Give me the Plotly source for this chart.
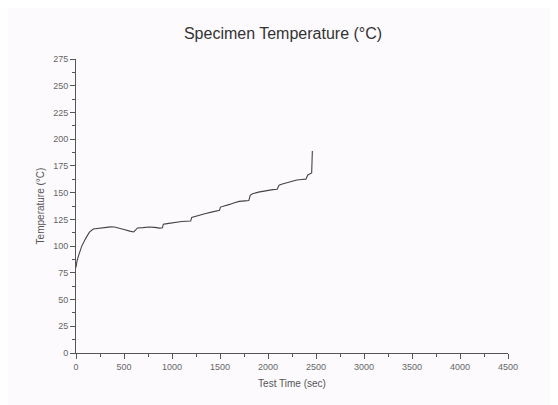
import plotly.graph_objects as go

# test time (sec) and specimen temperature (degC)
time_sec = [
    0, 10, 30, 60, 100, 140, 180, 220, 280, 320, 360, 400, 450, 500, 560, 600,
    620, 640, 700, 760, 820, 870, 900, 910, 950, 1000, 1050, 1100, 1150, 1195,
    1205, 1240, 1300, 1350, 1400, 1450, 1495, 1505, 1550, 1600, 1650, 1700,
    1760, 1800, 1815, 1840, 1900, 1950, 2000, 2050, 2095, 2115, 2150, 2200,
    2250, 2300, 2350, 2395, 2415, 2440, 2455, 2462,
]
temp_c = [
    80, 86, 92, 100, 107, 113, 116, 116.5, 116.8, 117.8, 118, 117.8, 117, 115.5,
    114, 113.2, 115, 117, 117.3, 117.8, 117.5, 116.8, 117.2, 120.5, 121, 121.8,
    122.5, 123, 123.2, 123.4, 126.8, 127.8, 129, 130.5, 131.5, 132.8, 133.5,
    136.5, 137.5, 139, 140.5, 141.8, 142.3, 142.6, 147.5, 149, 150.5, 151.5,
    152, 152.8, 153.2, 157, 158, 159.5, 160.8, 161.8, 162.3, 162.6, 166.5,
    167.5, 168.5, 189,
]

x_ticks = [0, 500, 1000, 1500, 2000, 2500, 3000, 3500, 4000, 4500]
y_ticks = [0, 25, 50, 75, 100, 125, 150, 175, 200, 225, 250, 275]

fig = go.Figure(
    go.Scatter(
        x=time_sec,
        y=temp_c,
        mode="lines",
        line=dict(color="#444", width=1.1),
        showlegend=False,
    )
)

axis_style = dict(
    showline=True,
    linecolor="#555",
    linewidth=1,
    ticks="outside",
    tickcolor="#555",
    ticklen=5,
    showgrid=False,
    zeroline=False,
    tickfont=dict(family="Liberation Sans, Arial", size=9, color="#666"),
    title_font=dict(family="Liberation Sans, Arial", size=10, color="#555"),
)

fig.update_xaxes(
    **axis_style,
    range=[0, 4500],
    tickvals=x_ticks,
    minor=dict(ticks="outside", ticklen=3, dtick=250, tickcolor="#555"),
    title_text="Test Time (sec)",
    title_standoff=9,
)
fig.update_yaxes(
    **axis_style,
    range=[0, 275],
    tickvals=y_ticks,
    minor=dict(ticks="outside", ticklen=3, dtick=12.5, tickcolor="#555"),
    title_text="Temperature (°C)",
    title_standoff=6,
)

# the page body adds an 8px offset, so the figure is sized to sit inside it
fig.update_layout(
    width=550,
    height=397,
    margin=dict(l=68, r=50, t=51, b=52),
    paper_bgcolor="#fcfafc",
    plot_bgcolor="#fcfafc",
    title=dict(
        text="Specimen Temperature (°C)",
        x=0.5,
        xanchor="center",
        y=1 - 25 / 397,
        yanchor="middle",
        font=dict(family="Liberation Sans, Arial", size=16, color="#333"),
    ),
)

fig.write_html("out.html")
